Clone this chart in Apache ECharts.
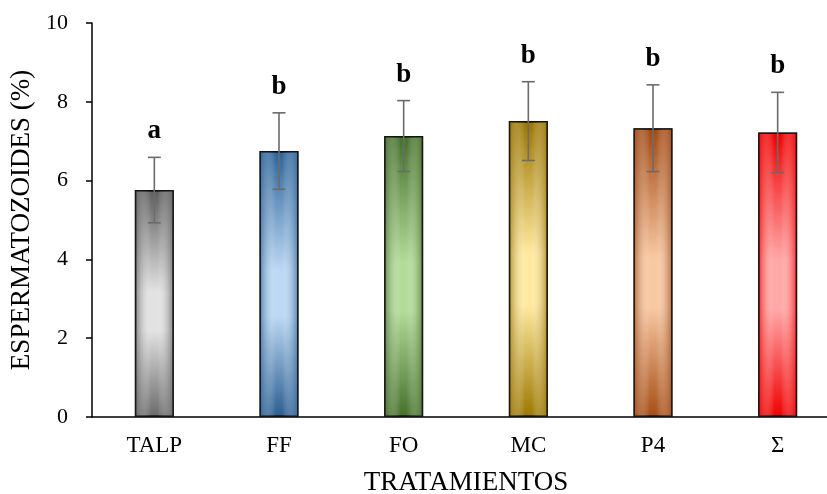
<!DOCTYPE html>
<html>
<head>
<meta charset="utf-8">
<script src="https://cdn.jsdelivr.net/npm/echarts@6/dist/echarts.min.js"></script>
<style>
  html, body { margin: 0; padding: 0; background: #fff; }
  #chart { width: 827px; height: 494px; }
</style>
</head>
<body>
<div id="chart"></div>
<script>
// ── Data ──────────────────────────────────────────────────────────────
const categories = ['TALP', 'FF', 'FO', 'MC', 'P4', 'Σ'];
const means      = [5.76, 6.75, 7.13, 7.51, 7.33, 7.22];
const errors     = [0.83, 0.97, 0.90, 1.00, 1.10, 1.02];
const letters    = ['a', 'b', 'b', 'b', 'b', 'b'];
const yTicks     = [0, 2, 4, 6, 8, 10];

// ── Style ─────────────────────────────────────────────────────────────
const fontFamily = '"Liberation Serif", "Times New Roman", serif';
// [top, middle-light, bottom] per bar
const barPalette = [
  ['#5e5e5e', '#e2e2e2', '#6a6a6a'],
  ['#2c6399', '#bcd8f4', '#2a5d90'],
  ['#44702a', '#b4dc98', '#45712b'],
  ['#9a7400', '#ffeaa0', '#9c7700'],
  ['#a14812', '#f8c8a2', '#a64d14'],
  ['#f00000', '#ffa8a8', '#f00000'],
];

const vGrad = c => new echarts.graphic.LinearGradient(0, 0, 0, 1, [
  { offset: 0, color: c[0] },
  { offset: 0.45, color: c[1] },
  { offset: 0.62, color: c[1] },
  { offset: 1, color: c[2] },
]);
const hGrad = c => new echarts.graphic.LinearGradient(0, 0, 1, 0, [
  { offset: 0, color: c[0] },
  { offset: 0.42, color: 'rgba(255,255,255,0)' },
  { offset: 0.58, color: 'rgba(255,255,255,0)' },
  { offset: 1, color: c[0] },
]);

const chart = echarts.init(document.getElementById('chart'), null, { renderer: 'canvas' });

chart.setOption({
  animation: false,
  grid: { left: 92, right: -13, top: 23, bottom: 77, containLabel: false, outerBoundsMode: 'none' },
  xAxis: {
    type: 'category',
    data: categories,
    name: 'TRATAMIENTOS',
    nameLocation: 'middle',
    nameGap: 52,
    nameTextStyle: { fontFamily, fontSize: 27, color: '#000' },
    axisLine: { lineStyle: { color: '#000', width: 1.5 } },
    axisTick: { show: false },
    axisLabel: { fontFamily, fontSize: 23, color: '#000', margin: 17 },
  },
  yAxis: {
    type: 'value',
    min: yTicks[0],
    max: yTicks[yTicks.length - 1],
    interval: 2,
    name: 'ESPERMATOZOIDES (%)',
    nameLocation: 'middle',
    nameGap: 56,
    nameTextStyle: { fontFamily, fontSize: 27, color: '#000' },
    axisLine: { show: true, lineStyle: { color: '#000', width: 1.5 } },
    axisTick: { show: true, length: 6, lineStyle: { color: '#000', width: 1.5 } },
    axisLabel: { fontFamily, fontSize: 22, color: '#000', margin: 24 },
    splitLine: { show: false },
  },
  series: [
    {
      type: 'bar',
      barWidth: 39,
      data: means.map((v, i) => ({
        value: v,
        itemStyle: { color: vGrad(barPalette[i]), borderColor: '#111', borderWidth: 1.5 },
      })),
      z: 2,
    },
    {
      type: 'bar',
      barWidth: 39,
      barGap: '-100%',
      data: means.map((v, i) => ({
        value: v,
        itemStyle: { color: hGrad(barPalette[i]), opacity: 0.75, borderColor: '#111', borderWidth: 1.5 },
      })),
      z: 3,
    },
    {
      type: 'custom',
      z: 5,
      data: means.map((v, i) => [i, v, errors[i], letters[i]]),
      renderItem: (params, api) => {
        const x = api.value(0);
        const hi = api.coord([x, api.value(1) + api.value(2)]);
        const lo = api.coord([x, api.value(1) - api.value(2)]);
        const cap = 6.5;
        const style = { stroke: '#6b6b6b', lineWidth: 1.6 };
        return {
          type: 'group',
          children: [
            { type: 'line', shape: { x1: hi[0], y1: hi[1], x2: lo[0], y2: lo[1] }, style },
            { type: 'line', shape: { x1: hi[0] - cap, y1: hi[1], x2: hi[0] + cap, y2: hi[1] }, style },
            { type: 'line', shape: { x1: lo[0] - cap, y1: lo[1], x2: lo[0] + cap, y2: lo[1] }, style },
            {
              type: 'text',
              x: hi[0], y: hi[1] - 26,
              style: {
                text: letters[params.dataIndex],
                fontFamily, fontSize: 27, fontWeight: 'bold', fill: '#000',
                align: 'center', verticalAlign: 'middle',
              },
            },
          ],
        };
      },
    },
  ],
});
</script>
</body>
</html>
